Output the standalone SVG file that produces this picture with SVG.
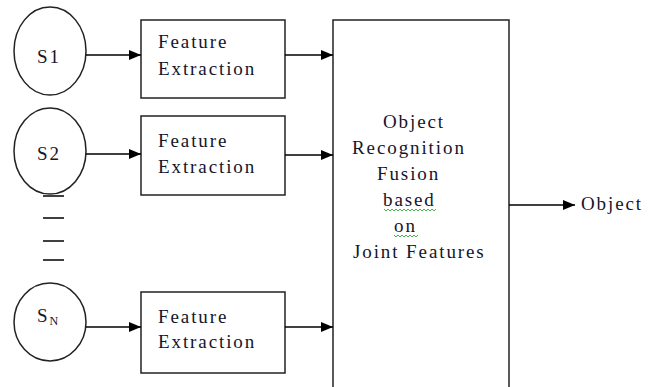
<svg xmlns="http://www.w3.org/2000/svg" width="655" height="387" viewBox="0 0 655 387" font-family="Liberation Serif, Times New Roman, serif" font-size="19">
  <style>
    .shape { fill: #fff; stroke: #222; stroke-width: 1.5; }
    .wire { stroke: #000; stroke-width: 1.5; fill: none; }
    .txt { fill: #15152a; letter-spacing: 1.9px; }
    .squiggle { stroke: #4caf50; stroke-width: 1; fill: none; }
  </style>
  <defs>
    <marker id="arrow" viewBox="0 0 12 10" refX="12" refY="5" markerWidth="12" markerHeight="10" markerUnits="userSpaceOnUse" orient="auto">
      <path d="M0,0 L12,5 L0,10 Z" fill="#000"/>
    </marker>
  </defs>

  <!-- sensors -->
  <g id="sensor-1">
    <ellipse class="shape" cx="50" cy="51" rx="36" ry="44"/>
    <text class="txt" x="37" y="63" letter-spacing="1">S1</text>
  </g>
  <g id="sensor-2">
    <ellipse class="shape" cx="50" cy="151" rx="36" ry="43"/>
    <text class="txt" x="37" y="160" letter-spacing="1">S2</text>
  </g>
  <g id="sensor-n">
    <ellipse class="shape" cx="50" cy="322" rx="36" ry="39"/>
    <text class="txt" x="37" y="322" letter-spacing="0">S<tspan font-size="12" dy="3">N</tspan></text>
  </g>

  <!-- ellipsis between sensors -->
  <g id="ellipsis" stroke="#000" stroke-width="1.5">
    <line x1="43" y1="196" x2="64" y2="196"/>
    <line x1="43" y1="218" x2="64" y2="218"/>
    <line x1="43" y1="241" x2="64" y2="241"/>
    <line x1="43" y1="260" x2="64" y2="260"/>
  </g>

  <!-- feature extraction blocks -->
  <g id="feature-1">
    <rect class="shape" x="141" y="20" width="144" height="78"/>
    <text class="txt" x="158" y="48">Feature</text>
    <text class="txt" x="158" y="75">Extraction</text>
  </g>
  <g id="feature-2">
    <rect class="shape" x="141" y="116" width="144" height="79"/>
    <text class="txt" x="158" y="147">Feature</text>
    <text class="txt" x="158" y="173">Extraction</text>
  </g>
  <g id="feature-n">
    <rect class="shape" x="141" y="292" width="144" height="81"/>
    <text class="txt" x="158" y="323">Feature</text>
    <text class="txt" x="158" y="348">Extraction</text>
  </g>

  <!-- fusion block -->
  <g id="fusion">
    <rect class="shape" x="333" y="20" width="176" height="390"/>
    <text class="txt" x="383" y="128">Object</text>
    <text class="txt" x="352" y="154" letter-spacing="1.6">Recognition</text>
    <text class="txt" x="377" y="180">Fusion</text>
    <text class="txt" x="383" y="206">based</text>
    <text class="txt" x="394" y="232">on</text>
    <text class="txt" x="353" y="258" letter-spacing="1.8">Joint Features</text>
    <path class="squiggle" d="M384,209 l2,2 l2,-2 l2,2 l2,-2 l2,2 l2,-2 l2,2 l2,-2 l2,2 l2,-2 l2,2 l2,-2 l2,2 l2,-2 l2,2 l2,-2 l2,2 l2,-2 l2,2 l2,-2 l2,2 l2,-2 l2,2 l2,-2 l2,2 l2,-2"/>
    <path class="squiggle" d="M394,235 l2,2 l2,-2 l2,2 l2,-2 l2,2 l2,-2 l2,2 l2,-2 l2,2 l2,-2 l2,2 l2,-2"/>
  </g>

  <g id="output">
    <text class="txt" x="581" y="210">Object</text>
  </g>

  <!-- connectors -->
  <g id="connectors">
    <line class="wire" x1="86" y1="55" x2="141" y2="55" marker-end="url(#arrow)"/>
    <line class="wire" x1="86" y1="154" x2="141" y2="154" marker-end="url(#arrow)"/>
    <line class="wire" x1="86" y1="327" x2="141" y2="327" marker-end="url(#arrow)"/>
    <line class="wire" x1="285" y1="55" x2="333" y2="55" marker-end="url(#arrow)"/>
    <line class="wire" x1="285" y1="155" x2="333" y2="155" stroke="#777" marker-end="url(#arrow)"/>
    <line class="wire" x1="285" y1="327" x2="333" y2="327" marker-end="url(#arrow)"/>
    <line class="wire" x1="509" y1="205" x2="575" y2="205" marker-end="url(#arrow)"/>
  </g>
</svg>
